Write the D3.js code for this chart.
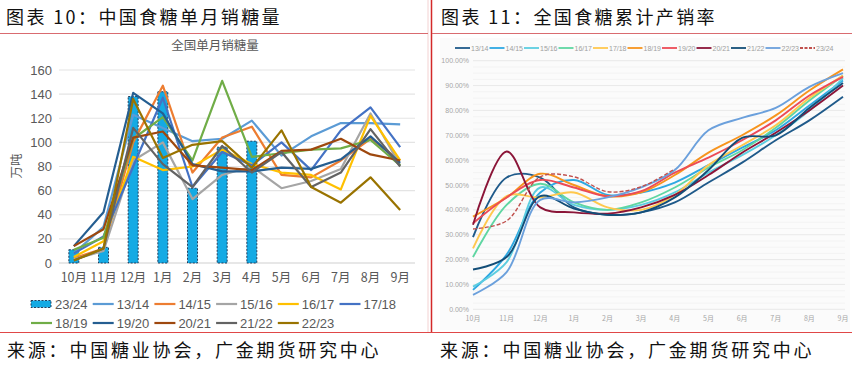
<!DOCTYPE html>
<html><head><meta charset="utf-8">
<script src="https://cdn.jsdelivr.net/npm/d3@7"></script>
<style>
body{margin:0;background:#fff;}
svg{display:block;}
</style></head>
<body>
<svg id="c" width="852" height="369"></svg>
<script>
// ---------- data ----------
const months = ["10月","11月","12月","1月","2月","3月","4月","5月","6月","7月","8月","9月"];
const yTicksLeft = [0,20,40,60,80,100,120,140,160];
const yTicksRight = [0,10,20,30,40,50,60,70,80,90,100];

// 单月销糖量 (万吨)
const sales2324 = [11, 13, 138, 142, 62, 96, 101];
const s1314 = [8, 30, 123, 112, 101, 103, 118, 89, 105, 116, 116, 115];
const s1415 = [4, 12, 100, 147, 75, 104, 113, 73, 71, 85, 103, 85];
const s1516 = [3, 10, 85, 100, 53, 73, 80, 62, 68, 78, 124, 81];
const s1617 = [5, 18, 88, 77, 80, 94, 82, 75, 73, 61, 122, 85];
const s1718 = [8, 22, 80, 137, 63, 92, 81, 100, 77, 110, 129, 96];
const s1819 = [11, 21, 103, 121, 85, 151, 88, 91, 94, 95, 102, 81];
const s1920 = [14, 42, 141, 124, 82, 76, 76, 79, 78, 86, 105, 83];
const s2021 = [14, 28, 104, 109, 81, 79, 77, 93, 94, 103, 90, 85];
const s2122 = [2, 12, 112, 82, 63, 97, 75, 92, 63, 75, 111, 80];
const s2223 = [2, 12, 136, 87, 98, 101, 79, 110, 63, 50, 71, 44];

// 累计产销率 (%)
const r1314 = [29, 53, 53, 41, 38, 39, 43, 51, 59, 68, 76, 85.5];
const r1415 = [7.8, 22, 47, 52, 46, 47, 51, 58, 65, 72, 82, 92];
const r1516 = [9.1, 19, 49, 42, 40, 42, 47, 55, 62, 70, 80, 93];
const r1617 = [21, 42, 50.5, 43, 40, 43, 49, 57, 64, 73, 84, 94];
const r1718 = [24.5, 45.5, 45, 47, 41, 40, 46, 58, 66, 74, 85, 94];
const r1819 = [37.3, 45, 54.5, 50, 45.5, 47, 54, 63, 70, 78, 88, 96.5];
const r1920 = [34.6, 45, 52, 49, 45.5, 47.5, 55, 61, 68, 76, 86, 93.5];
const r2021 = [34, 63.5, 41, 39, 38.5, 41, 46, 54, 63, 71, 80, 90];
const r2122 = [16, 21, 45.5, 40.5, 38, 39, 45, 56, 69, 70, 81, 91];
const r2223 = [5.8, 15, 44, 43, 45, 49, 56, 72, 77, 81, 89.5, 95];
const r2324 = [32.3, 35.6, 53.3, 53.3, 47.3, 49.3, 56.5];

const leftSeries = [
  {name:"13/14", values:s1314, color:"#5B9BD5"},
  {name:"14/15", values:s1415, color:"#ED7D31"},
  {name:"15/16", values:s1516, color:"#A5A5A5"},
  {name:"16/17", values:s1617, color:"#FFC000"},
  {name:"17/18", values:s1718, color:"#4472C4"},
  {name:"18/19", values:s1819, color:"#70AD47"},
  {name:"19/20", values:s1920, color:"#255E91"},
  {name:"20/21", values:s2021, color:"#9E480E"},
  {name:"21/22", values:s2122, color:"#636363"},
  {name:"22/23", values:s2223, color:"#997300"}
];
const rightSeries = [
  {name:"13/14", values:r1314, color:"#1F5A8A"},
  {name:"14/15", values:r1415, color:"#2EA8E2"},
  {name:"15/16", values:r1516, color:"#5CCDE0"},
  {name:"16/17", values:r1617, color:"#5FD6A2"},
  {name:"17/18", values:r1718, color:"#FFC84E"},
  {name:"18/19", values:r1819, color:"#F7941D"},
  {name:"19/20", values:r1920, color:"#EC4B56"},
  {name:"20/21", values:r2021, color:"#8B1538"},
  {name:"21/22", values:r2122, color:"#134E78"},
  {name:"22/23", values:r2223, color:"#6BA0DC"},
  {name:"23/24", values:r2324, color:"#C0504D", dash:true}
];

const svg = d3.select("#c");
const cjk = "'Noto Sans CJK SC', sans-serif";
const lat = "'Liberation Sans', Arial, sans-serif";

// ---------- frame ----------
svg.append("line").attr("x1",428).attr("x2",428).attr("y1",0).attr("y2",333).attr("stroke","#f3d2d2").attr("stroke-width",1);
svg.append("line").attr("x1",431.5).attr("x2",431.5).attr("y1",0).attr("y2",333).attr("stroke","#d42a2a").attr("stroke-width",1.5);
svg.append("line").attr("x1",0).attr("x2",428).attr("y1",33.5).attr("y2",33.5).attr("stroke","#d96b70").attr("stroke-width",1.2);
svg.append("line").attr("x1",432).attr("x2",852).attr("y1",33.5).attr("y2",33.5).attr("stroke","#d96b70").attr("stroke-width",1.2);
svg.append("line").attr("x1",0).attr("x2",852).attr("y1",332.5).attr("y2",332.5).attr("stroke","#e04848").attr("stroke-width",1.2);

svg.append("text").attr("x",6).attr("y",24).attr("font-family",cjk).attr("font-size",18).attr("letter-spacing",2.4).attr("fill","#111").text("图表 10：中国食糖单月销糖量");
svg.append("text").attr("x",441).attr("y",24).attr("font-family",cjk).attr("font-size",18).attr("letter-spacing",2.4).attr("fill","#111").text("图表 11：全国食糖累计产销率");
svg.append("text").attr("x",7).attr("y",357).attr("font-family",cjk).attr("font-size",18).attr("letter-spacing",2.8).attr("fill","#111").text("来源：中国糖业协会，广金期货研究中心");
svg.append("text").attr("x",440).attr("y",357).attr("font-family",cjk).attr("font-size",18).attr("letter-spacing",2.8).attr("fill","#111").text("来源：中国糖业协会，广金期货研究中心");

// ---------- left chart ----------
const L = svg.append("g");
const xL = d3.scaleBand().domain(months).range([59, 415]);
const yL = d3.scaleLinear().domain([0,160]).range([263, 70]);
const cx = m => xL(m) + xL.bandwidth()/2;

L.append("text").attr("x",215).attr("y",50).attr("text-anchor","middle").attr("font-family",cjk).attr("font-size",12.5).attr("fill","#595959").text("全国单月销糖量");

L.selectAll("line.g").data(yTicksLeft).enter().append("line")
  .attr("x1",59).attr("x2",415).attr("y1",d=>yL(d)).attr("y2",d=>yL(d))
  .attr("stroke",d=>d===0?"#d0d0d0":"#e4e4e4").attr("stroke-width",1.2);
L.selectAll("text.yl").data(yTicksLeft).enter().append("text")
  .attr("x",52).attr("y",d=>yL(d)+4.5).attr("text-anchor","end")
  .attr("font-family",lat).attr("font-size",13).attr("fill","#595959").text(d=>d);
L.selectAll("text.xl").data(months).enter().append("text")
  .attr("x",d=>cx(d)).attr("y",282).attr("text-anchor","middle")
  .attr("font-family",cjk).attr("font-size",12.5).attr("fill","#595959").text(d=>d);
L.append("text").attr("transform","translate(21,166) rotate(-90)").attr("text-anchor","middle")
  .attr("font-family",cjk).attr("font-size",12.5).attr("fill","#595959").text("万吨");

// bars
L.selectAll("rect.b").data(sales2324).enter().append("rect")
  .attr("x",(d,i)=>cx(months[i])-5).attr("width",10)
  .attr("y",d=>yL(d)).attr("height",d=>yL(0)-yL(d))
  .attr("fill","#14AAE4").attr("stroke","#1b2f4d").attr("stroke-width",0.9).attr("stroke-dasharray","2,1.5");

const lineL = d3.line().x((d,i)=>cx(months[i])).y(d=>yL(d));
leftSeries.forEach(s=>{
  L.append("path").attr("d",lineL(s.values)).attr("fill","none")
   .attr("stroke",s.color).attr("stroke-width",2.2).attr("stroke-linejoin","round");
});

// left legend
const legL = [{name:"23/24", bar:true}].concat(leftSeries);
legL.forEach((s,i)=>{
  const col = i%6, row = Math.floor(i/6);
  const x0 = 31 + col*61.7, y0 = 304 + row*19;
  if(s.bar){
    L.append("rect").attr("x",x0).attr("y",y0-3.5).attr("width",20).attr("height",7)
     .attr("fill","#14AAE4").attr("stroke","#1b2f4d").attr("stroke-width",0.9).attr("stroke-dasharray","2,1.5");
  } else {
    L.append("line").attr("x1",x0).attr("x2",x0+21).attr("y1",y0).attr("y2",y0)
     .attr("stroke",s.color).attr("stroke-width",2.2);
  }
  L.append("text").attr("x",x0+24).attr("y",y0+4.5).attr("font-family",lat).attr("font-size",13)
   .attr("fill","#595959").text(s.name);
});

// ---------- right chart ----------
const R = svg.append("g");
R.append("rect").attr("x",440).attr("y",38).attr("width",410).attr("height",292).attr("fill","#fbfbfb");
const xR = d3.scalePoint().domain(months).range([473, 843]);
const yR = d3.scaleLinear().domain([0,100]).range([309.3, 60.7]);

const minor = d3.range(0, 100.01, 2.5).filter(v=>v%10!==0);
R.selectAll("line.mn").data(minor).enter().append("line")
  .attr("x1",473).attr("x2",845).attr("y1",d=>yR(d)).attr("y2",d=>yR(d))
  .attr("stroke","#f1f1f1").attr("stroke-width",0.8);
R.selectAll("line.mj").data(yTicksRight).enter().append("line")
  .attr("x1",473).attr("x2",845).attr("y1",d=>yR(d)).attr("y2",d=>yR(d))
  .attr("stroke","#e6e6e6").attr("stroke-width",0.9);
R.selectAll("text.yr").data(yTicksRight).enter().append("text")
  .attr("x",469).attr("y",d=>yR(d)+2.5).attr("text-anchor","end")
  .attr("font-family",lat).attr("font-size",7).attr("fill","#a6a6a6").text(d=>d.toFixed(2)+"%");
R.selectAll("text.xr").data(months).enter().append("text")
  .attr("x",d=>xR(d)).attr("y",321).attr("text-anchor","middle")
  .attr("font-family",cjk).attr("font-size",7).attr("fill","#a6a6a6").text(d=>d);

const lineR = d3.line().x((d,i)=>xR(months[i])).y(d=>yR(d)).curve(d3.curveCatmullRom.alpha(0.5));
rightSeries.forEach(s=>{
  R.append("path").attr("d",lineR(s.values)).attr("fill","none")
   .attr("stroke",s.color).attr("stroke-width",s.dash?1.4:1.9)
   .attr("stroke-dasharray",s.dash?"4,2":null);
});

// right legend
rightSeries.forEach((s,i)=>{
  const x0 = 455 + i*34.5, y0 = 48;
  R.append("line").attr("x1",x0).attr("x2",x0+15).attr("y1",y0).attr("y2",y0)
   .attr("stroke",s.color).attr("stroke-width",1.8).attr("stroke-dasharray",s.dash?"3,1.5":null);
  R.append("text").attr("x",x0+16).attr("y",y0+2.5).attr("font-family",lat).attr("font-size",7)
   .attr("fill","#a0a0a0").text(s.name);
});
</script>
</body></html>
